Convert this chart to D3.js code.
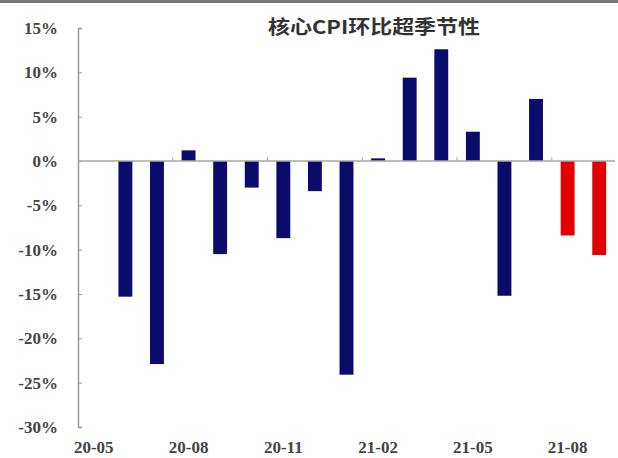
<!DOCTYPE html>
<html lang="zh">
<head>
<meta charset="UTF-8">
<title>核心CPI环比超季节性</title>
<script src="https://d3js.org/d3.v7.min.js"></script>
<style>
  body { margin: 0; background: #fff; }
  svg { display: block; }
</style>
</head>
<body>
<script>

var w = 618;
var h = 458;

// months 20-05 .. 21-09
var months = ["20-05","20-06","20-07","20-08","20-09","20-10","20-11","20-12",
              "21-01","21-02","21-03","21-04","21-05","21-06","21-07","21-08","21-09"];
var values = [null, -15.3, -22.9, 1.2, -10.5, -3.0, -8.7, -3.4,
              -24.1, 0.3, 9.4, 12.6, 3.3, -15.2, 7.0, -8.4, -10.6];
// last two months drawn in red
var highlight = ["21-08", "21-09"];
var yTicks = [15, 10, 5, 0, -5, -10, -15, -20, -25, -30];
var xLabels = ["20-05", "20-08", "20-11", "21-02", "21-05", "21-08"];

// plot edges (note: "top" is reserved on window, so use plot* names)
var plotLeft = 78, plotRight = 615, plotTop = 28, plotBottom = 427;

var svg = d3.select("body").append("svg")
    .attr("width", w)
    .attr("height", h);

// frame line at the very top
svg.append("rect")
    .attr("x", 0).attr("y", 0)
    .attr("width", w).attr("height", 3)
    .attr("fill", "#777");

var x = d3.scaleBand()
    .domain(months)
    .range([plotLeft, plotRight])
    .paddingInner(0.56)
    .paddingOuter(0.28);

var y = d3.scaleLinear()
    .domain([-30, 15])
    .range([plotBottom, plotTop]);

// title
svg.append("text")
    .attr("x", 374)
    .attr("y", 34)
    .attr("text-anchor", "middle")
    .attr("font-family", "'Noto Sans CJK SC', sans-serif")
    .attr("font-weight", "bold")
    .attr("font-size", "19px")
    .attr("textLength", 212)
    .attr("lengthAdjust", "spacingAndGlyphs")
    .attr("fill", "#333")
    .text("核心CPI环比超季节性");

// y axis
var yAxis = d3.axisRight(y)
    .tickValues(yTicks)
    .tickSize(4)
    .tickFormat("");
var gy = svg.append("g")
    .attr("transform", "translate(" + plotLeft + ",0)")
    .call(yAxis);
gy.select(".domain").attr("stroke", "#9a9a9a").attr("stroke-width", 1.5);
gy.selectAll(".tick line").attr("stroke", "#9a9a9a").attr("stroke-width", 1);

svg.selectAll(".ylab")
    .data(yTicks)
    .enter()
    .append("text")
    .attr("class", "ylab")
    .attr("x", 58)
    .attr("y", function(d) { return y(d) + 6; })
    .attr("text-anchor", "end")
    .attr("font-family", "'Liberation Serif', serif")
    .attr("font-weight", "bold")
    .attr("font-size", "17px")
    .attr("fill", "#444")
    .text(function(d) { return d + "%"; });

// bars
svg.selectAll(".bar")
    .data(months.map(function(m, i) { return { m: m, v: values[i] }; })
                .filter(function(d) { return d.v !== null; }))
    .enter()
    .append("rect")
    .attr("class", "bar")
    .attr("x", function(d) { return x(d.m); })
    .attr("width", x.bandwidth())
    .attr("y", function(d) { return y(Math.max(0, d.v)); })
    .attr("height", function(d) { return Math.abs(y(d.v) - y(0)); })
    .attr("fill", function(d) { return highlight.indexOf(d.m) >= 0 ? "#e00000" : "#0b0b6b"; });

// category axis at zero
svg.append("line")
    .attr("x1", plotLeft).attr("x2", plotRight)
    .attr("y1", y(0)).attr("y2", y(0))
    .attr("stroke", "#a8a8a0")
    .attr("stroke-width", 1.5);

// tick marks every 3 months on band boundaries
var slot = (plotRight - plotLeft) / months.length;
svg.selectAll(".xtick")
    .data(d3.range(3, months.length, 3))
    .enter()
    .append("line")
    .attr("class", "xtick")
    .attr("x1", function(d) { return plotLeft + d * slot; })
    .attr("x2", function(d) { return plotLeft + d * slot; })
    .attr("y1", y(0))
    .attr("y2", y(0) - 4)
    .attr("stroke", "#a8a8a0")
    .attr("stroke-width", 1);

// x labels along the bottom
svg.selectAll(".xlab")
    .data(xLabels)
    .enter()
    .append("text")
    .attr("class", "xlab")
    .attr("x", function(d) { return x(d) + x.bandwidth() / 2; })
    .attr("y", 453)
    .attr("text-anchor", "middle")
    .attr("font-family", "'Liberation Serif', serif")
    .attr("font-weight", "bold")
    .attr("font-size", "17px")
    .attr("fill", "#444")
    .text(function(d) { return d; });

</script>
</body>
</html>
